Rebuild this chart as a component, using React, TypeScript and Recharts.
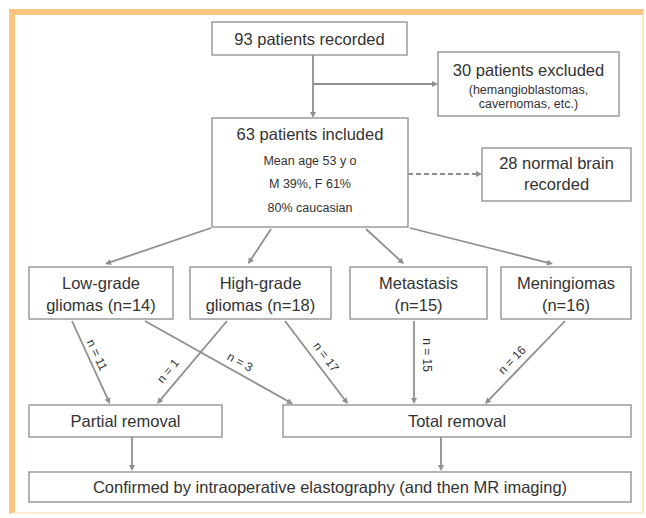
import React from 'react';
import { ScatterChart, Scatter, XAxis, YAxis, ReferenceArea, ReferenceLine } from 'recharts';

// ---------- data ----------
const headerTitles = ['93 patients recorded', '30 patients excluded', '63 patients included', '28 normal brain'];
const excludedDetails = ['(hemangioblastomas,', 'cavernomas, etc.)'];
const includedDetails = ['Mean age 53 y o', 'M 39%, F 61%', '80% caucasian'];
const normalDetails = ['recorded'];
const tumorTypes = ['Low-grade', 'High-grade', 'Metastasis', 'Meningiomas'];
const tumorPrefix = ['gliomas ', 'gliomas ', '', ''];
const tumorCounts = [14, 18, 15, 16];
const outcomeTitles = ['Partial removal', 'Total removal'];
const finalTitle = 'Confirmed by intraoperative elastography (and then MR imaging)';
const flowCounts = [11, 3, 1, 17, 15, 16];

// ---------- layout (pixel space of the diagram) ----------
const W = 646;
const H = 518;
const BIG = 16.5;
const SMALL = 12.5;
const FONT = '"Liberation Sans", Arial, Helvetica, sans-serif';
const TEXT = '#333333';
const LINE = '#8f8f8f';
const BOX = '#9c9c9c';

type Node = { lines: string[]; sizes: number[]; ys: number[]; box: [number, number, number, number] };

const nodes: Node[] = [
  { lines: [headerTitles[0]], sizes: [BIG], ys: [39], box: [212, 407, 22, 55] },
  { lines: [headerTitles[1], ...excludedDetails], sizes: [BIG, SMALL, SMALL], ys: [70, 90, 104], box: [438, 619, 52, 116] },
  { lines: [headerTitles[2], ...includedDetails], sizes: [BIG, SMALL, SMALL, SMALL], ys: [134, 161, 184, 208], box: [212, 408, 118, 227] },
  { lines: [headerTitles[3], ...normalDetails], sizes: [BIG, BIG], ys: [163, 184], box: [482, 631, 148, 201] },
  ...tumorTypes.map((t, i) => ({
    lines: [t, `${tumorPrefix[i]}(n=${tumorCounts[i]})`],
    sizes: [BIG, BIG],
    ys: [283, 305],
    box: ([[29, 173], [190, 331], [350, 487], [501, 631]][i].concat([267, 319]) as [number, number, number, number]),
  })),
  { lines: [outcomeTitles[0]], sizes: [BIG], ys: [421], box: [29, 222, 405, 437] },
  { lines: [outcomeTitles[1]], sizes: [BIG], ys: [421], box: [283, 631, 405, 437] },
  { lines: [finalTitle], sizes: [BIG], ys: [487], box: [29, 631, 472, 502] },
];

type Edge = { a: [number, number]; b: [number, number]; dashed?: boolean };
const edges: Edge[] = [
  { a: [313, 55], b: [313, 118] },
  { a: [313, 84], b: [438, 84] },
  { a: [408, 174], b: [482, 174], dashed: true },
  { a: [211, 228], b: [105, 264] },
  { a: [271, 229], b: [248, 264] },
  { a: [366, 229], b: [404, 264] },
  { a: [410, 228], b: [553, 264] },
  { a: [72, 321], b: [110, 404] },
  { a: [145, 321], b: [293, 404] },
  { a: [227, 321], b: [157, 404] },
  { a: [285, 321], b: [348, 404] },
  { a: [414, 321], b: [414, 404] },
  { a: [565, 321], b: [485, 404] },
  { a: [132, 437], b: [132, 471] },
  { a: [441, 437], b: [441, 471] },
];

const flowLabelPos: [number, number, number][] = [
  [97, 355, 65],
  [240, 362, 29],
  [168, 371, -50],
  [326, 357, 53],
  [427, 355, 90],
  [512, 360, -46],
];

const textPoints = nodes.map((n, i) => ({ x: (n.box[0] + n.box[1]) / 2, y: n.box[2], idx: i }));
const flowPoints = flowCounts.map((c, i) => ({ x: flowLabelPos[i][0], y: flowLabelPos[i][1], label: `n = ${c}`, angle: flowLabelPos[i][2] }));

const ArrowShape = (dashed: boolean) => (props: any) => {
  const { x1, y1, x2, y2 } = props;
  const dx = x2 - x1;
  const dy = y2 - y1;
  const len = Math.sqrt(dx * dx + dy * dy) || 1;
  const ux = dx / len;
  const uy = dy / len;
  const hl = 6;
  const hw = 3;
  const bx = x2 - ux * hl;
  const by = y2 - uy * hl;
  const pts = `${x2},${y2} ${bx - uy * hw},${by + ux * hw} ${bx + uy * hw},${by - ux * hw}`;
  return (
    <g>
      <line x1={x1} y1={y1} x2={bx + ux * 1} y2={by + uy * 1} stroke={LINE} strokeWidth={1.8} strokeDasharray={dashed ? '5 3' : undefined} />
      <polygon points={pts} fill={LINE} />
    </g>
  );
};

const NodeText = (props: any) => {
  const { cx, cy, payload } = props;
  const n = nodes[payload.idx];
  const top = n.box[2];
  return (
    <g>
      {n.lines.map((t, j) => (
        <text
          key={j}
          x={cx}
          y={cy + (n.ys[j] - top)}
          textAnchor="middle"
          dominantBaseline="central"
          fontSize={n.sizes[j]}
          fontFamily={FONT}
          fill={TEXT}
        >
          {t}
        </text>
      ))}
    </g>
  );
};

const FlowLabel = (props: any) => {
  const { cx, cy, payload } = props;
  return (
    <text
      x={cx}
      y={cy}
      textAnchor="middle"
      dominantBaseline="central"
      fontSize={12}
      fontFamily={FONT}
      fill={TEXT}
      transform={`rotate(${payload.angle} ${cx} ${cy})`}
    >
      {payload.label}
    </text>
  );
};

export default function App() {
  return (
    <div style={{ position: 'absolute', left: 0, top: 0, width: W, height: H, background: '#ffffff', overflow: 'hidden' }}>
      <div
        style={{
          position: 'absolute',
          left: 9,
          top: 9,
          width: 635,
          height: 505,
          boxSizing: 'border-box',
          borderTop: '6px solid #fcc47f',
          borderLeft: '6px solid #fcc47f',
          borderRight: '2px solid #fde6c4',
          borderBottom: '2px solid #fdeed8',
        }}
      />
      <div style={{ position: 'absolute', left: 0, top: 0 }}>
        <ScatterChart width={W} height={H} margin={{ top: 0, right: 0, bottom: 0, left: 0 }}>
          <XAxis type="number" dataKey="x" domain={[0, W]} hide allowDataOverflow />
          <YAxis type="number" dataKey="y" domain={[0, H]} reversed hide allowDataOverflow />
          {nodes.map((n, i) => (
            <ReferenceArea
              key={`box-${i}`}
              x1={n.box[0]}
              x2={n.box[1]}
              y1={n.box[2]}
              y2={n.box[3]}
              fill="#ffffff"
              fillOpacity={1}
              stroke={BOX}
              strokeWidth={1.5}
              ifOverflow="visible"
            />
          ))}
          {edges.map((e, i) => (
            <ReferenceLine
              key={`edge-${i}`}
              segment={[{ x: e.a[0], y: e.a[1] }, { x: e.b[0], y: e.b[1] }]}
              ifOverflow="visible"
              shape={ArrowShape(!!e.dashed)}
            />
          ))}
          <Scatter data={textPoints} shape={NodeText} isAnimationActive={false} />
          <Scatter data={flowPoints} shape={FlowLabel} isAnimationActive={false} />
        </ScatterChart>
      </div>
    </div>
  );
}
